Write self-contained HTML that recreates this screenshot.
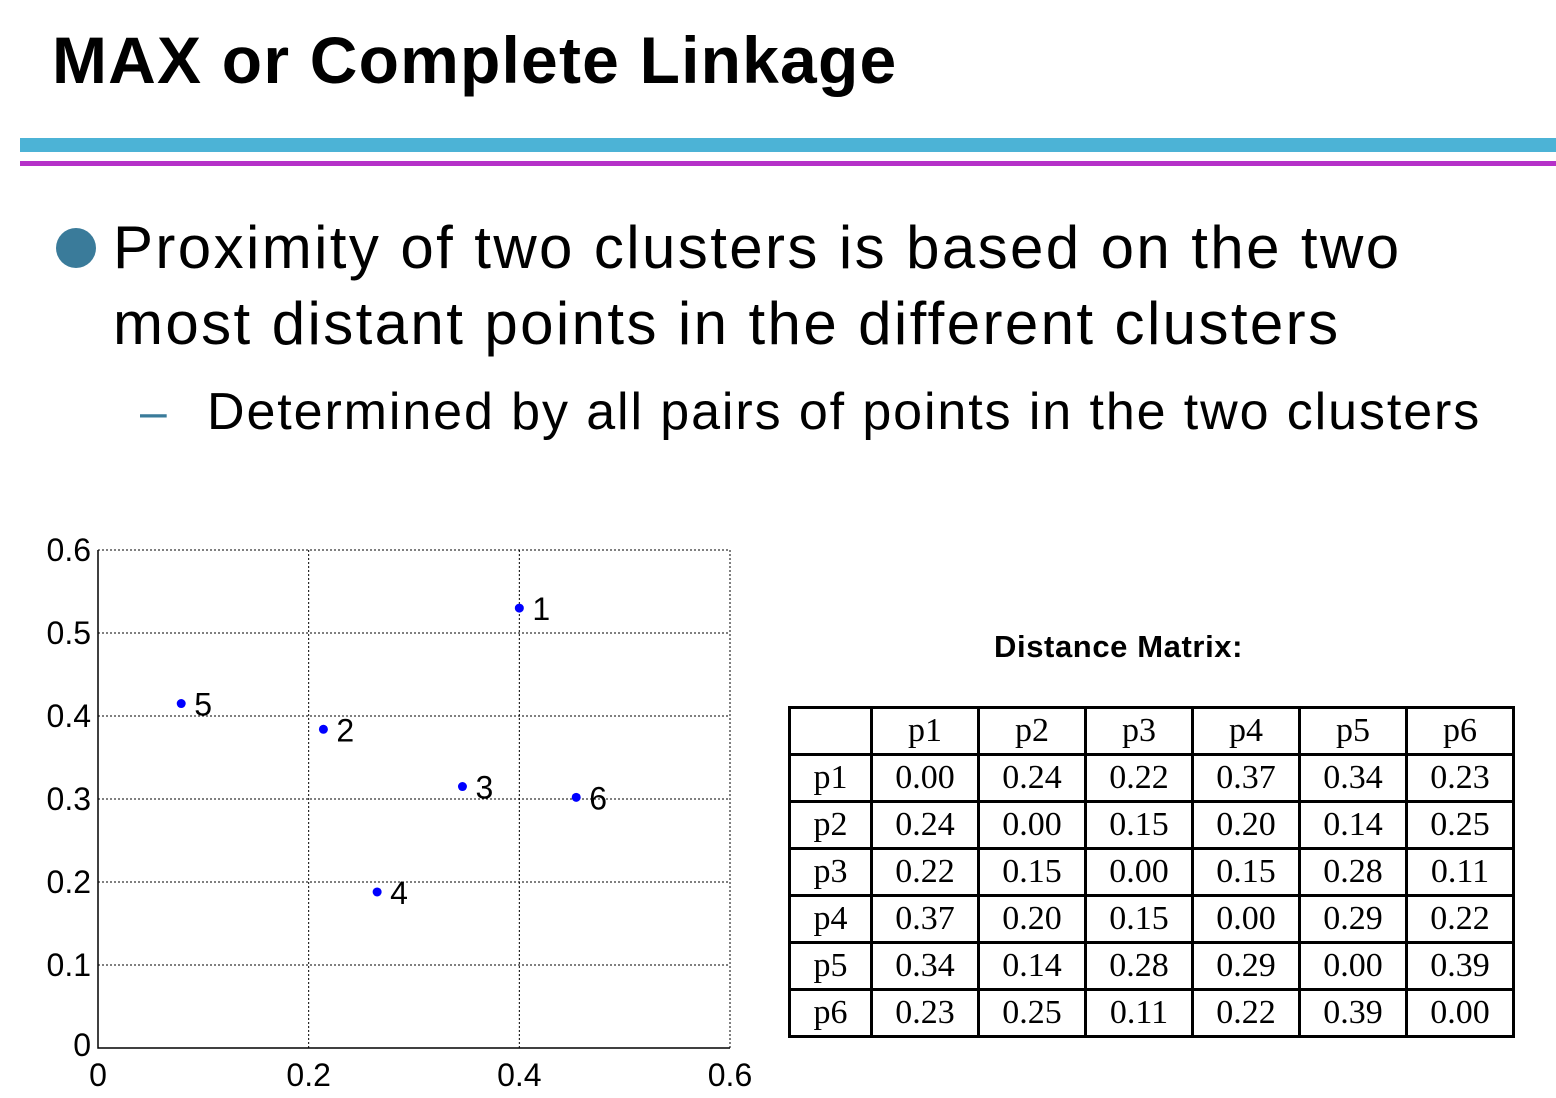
<!DOCTYPE html>
<html><head><meta charset="utf-8"><style>
body{margin:0;width:1556px;height:1098px;background:#fff;position:relative;overflow:hidden;font-family:"Liberation Sans",sans-serif}
.abs{position:absolute;white-space:nowrap}
table{border-collapse:collapse;position:absolute;left:788px;top:706px;font-family:"Liberation Serif",serif;font-size:34px}
td{border:3px solid #000;text-align:center;padding:0;height:44px;line-height:40px}
</style></head><body>
<div class="abs" style="left:52px;top:22px;font-size:66px;font-weight:bold;letter-spacing:1.2px">MAX or Complete Linkage</div>
<div class="abs" style="left:20px;top:138px;width:1536px;height:14px;background:#4cb3d6"></div>
<div class="abs" style="left:20px;top:161px;width:1536px;height:5px;background:#b531c8"></div>
<div class="abs" style="left:56px;top:228px;width:40px;height:40px;border-radius:50%;background:#3a7b9a"></div>
<div class="abs" style="left:113px;top:210px;font-size:60px;line-height:76px;letter-spacing:2.4px">Proximity of two clusters is based on the two<br>most distant points in the different clusters</div>
<div class="abs" style="left:140px;top:385px;font-size:48px;color:#3a7b9a">–</div>
<div class="abs" style="left:207px;top:382px;font-size:52px;letter-spacing:1.9px">Determined by all pairs of points in the two clusters</div>
<div class="abs" style="left:994px;top:629px;font-size:31px;font-weight:bold;letter-spacing:0.6px">Distance Matrix:</div>
<svg id="chart" class="abs" style="left:0;top:520px" width="780" height="578" viewBox="0 520 780 578"></svg>
<table id="tbl"></table>
<script>
const xs=[0.40,0.214,0.346,0.265,0.079,0.454];
const ys=[0.530,0.384,0.315,0.188,0.415,0.302];
const labels=["1","2","3","4","5","6"];
const xticks=[0,0.2,0.4,0.6], xtickLabels=["0","0.2","0.4","0.6"];
const yticks=[0,0.1,0.2,0.3,0.4,0.5,0.6], ytickLabels=["0","0.1","0.2","0.3","0.4","0.5","0.6"];
const names=["p1","p2","p3","p4","p5","p6"];
const dist=[[0.00,0.24,0.22,0.37,0.34,0.23],[0.24,0.00,0.15,0.20,0.14,0.25],[0.22,0.15,0.00,0.15,0.28,0.11],[0.37,0.20,0.15,0.00,0.29,0.22],[0.34,0.14,0.28,0.29,0.00,0.39],[0.23,0.25,0.11,0.22,0.39,0.00]];
const X=v=>98+v/0.6*632, Y=v=>1048-v/0.6*498;
const svg=document.getElementById('chart'),NS="http://www.w3.org/2000/svg";
function mk(t,a,txt){const e=document.createElementNS(NS,t);for(const k in a)e.setAttribute(k,a[k]);if(txt!=null)e.textContent=txt;svg.appendChild(e);return e;}
xticks.forEach((t,i)=>{if(t>0){const g=mk('line',{x1:X(t),x2:X(t),y1:Y(0),y2:Y(0.6),stroke:'#000','stroke-width':1,'stroke-dasharray':'2,2'});
}
const l=mk('text',{x:X(t),y:1086,'font-size':32,'text-anchor':'middle','font-family':'Liberation Sans'},xtickLabels[i]);
});
yticks.forEach((t,i)=>{if(t>0){const g=mk('line',{x1:X(0),x2:X(0.6),y1:Y(t),y2:Y(t),stroke:'#000','stroke-width':1,'stroke-dasharray':'2,2'});
}
const l=mk('text',{x:91,y:Y(t)+(t==0?8:11),'font-size':32,'text-anchor':'end','font-family':'Liberation Sans'},ytickLabels[i]);
});
const ax=mk('path',{d:`M${X(0)},${Y(0.6)}V${Y(0)}H${X(0.6)}`,fill:'none',stroke:'#000','stroke-width':1.5});

xs.forEach((x,i)=>{const c=mk('circle',{cx:X(x),cy:Y(ys[i]),r:4.5,fill:'#0000ff'});

const t=mk('text',{x:X(x)+13,y:Y(ys[i])+12,'font-size':32,'font-family':'Liberation Sans'},labels[i]);
});
const tbl=document.getElementById('tbl');const widths=[82,107,107,107,107,107,107];
let h='<tr>'+widths.map((w,i)=>`<td style="width:${w-3}px">${i?names[i-1]:''}</td>`).join('')+'</tr>';
dist.forEach((r,i)=>{h+='<tr><td>'+names[i]+'</td>'+r.map(v=>`<td>${v.toFixed(2)}</td>`).join('')+'</tr>';});
tbl.innerHTML=h;
</script>
</body></html>
